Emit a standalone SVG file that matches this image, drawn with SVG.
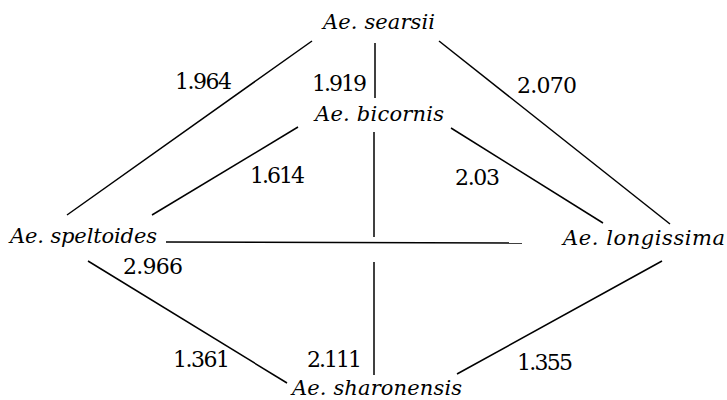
<svg xmlns="http://www.w3.org/2000/svg" width="727" height="400" viewBox="0 0 727 400">
<style>
text{font-family:'DejaVu Serif','Liberation Serif','Times New Roman',serif;fill:#000}
.name{font-style:italic;font-size:21px}
.num{font-size:22px}
.edge{stroke:#000;stroke-width:1.5;fill:none}
</style>
<rect width="727" height="400" fill="#fff"/>
<g id="connectors">
<line class="edge" x1="312" y1="41" x2="67" y2="215"/>
<line class="edge" x1="298" y1="127" x2="152" y2="215"/>
<line class="edge" x1="375" y1="43" x2="375" y2="98"/>
<line class="edge" x1="374" y1="132" x2="374" y2="237"/>
<line class="edge" x1="374" y1="262" x2="374" y2="375"/>
<line class="edge" x1="439" y1="41" x2="670" y2="224"/>
<line class="edge" x1="451" y1="128" x2="603" y2="223"/>
<line class="edge" x1="166" y1="242" x2="522" y2="243"/>
<line class="edge" x1="88" y1="261" x2="287" y2="383"/>
<line class="edge" x1="662" y1="261" x2="457" y2="374"/>
<text class="num" x="175" y="89" textLength="57">1.964</text>
<text class="num" x="312" y="91" textLength="55">1.919</text>
<text class="num" x="517" y="93" textLength="60">2.070</text>
<text class="num" x="250" y="183" textLength="55">1.614</text>
<text class="num" x="455" y="185" textLength="45">2.03</text>
<text class="num" x="123" y="274" textLength="60">2.966</text>
<text class="num" x="173" y="367" textLength="57">1.361</text>
<text class="num" x="307" y="367" textLength="55">2.111</text>
<text class="num" x="517" y="370" textLength="56">1.355</text>
</g>
<g id="searsii"><text class="name" x="323" y="29" textLength="112">Ae. searsii</text></g>
<g id="bicornis"><text class="name" x="315" y="121" textLength="129">Ae. bicornis</text></g>
<g id="speltoides"><text class="name" x="10" y="243" textLength="147">Ae. speltoides</text></g>
<g id="longissima"><text class="name" x="563" y="245" textLength="162">Ae. longissima</text></g>
<g id="sharonensis"><text class="name" x="292" y="395" textLength="170">Ae. sharonensis</text></g>
</svg>
